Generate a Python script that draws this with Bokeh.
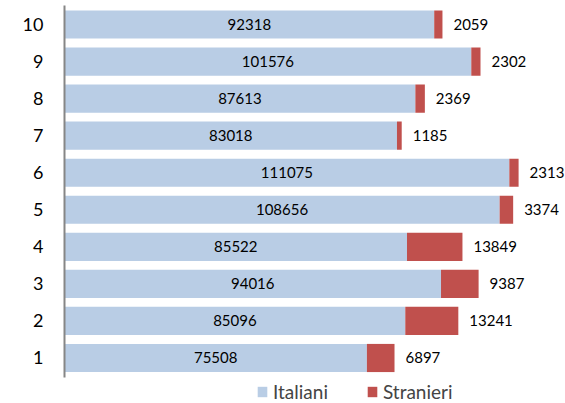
from bokeh.plotting import figure
from bokeh.models import ColumnDataSource, FixedTicker, Legend, LegendItem, LabelSet
from bokeh.core.properties import value
from bokeh.embed import file_html
from bokeh.resources import INLINE

categories = [1, 2, 3, 4, 5, 6, 7, 8, 9, 10]
italiani = [75508, 85096, 94016, 85522, 108656, 111075, 83018, 87613, 101576, 92318]
stranieri = [6897, 13241, 9387, 13849, 3374, 2313, 1185, 2369, 2302, 2059]

c_ita = "#B9CDE5"
c_str = "#C0504D"

tot = [a + b for a, b in zip(italiani, stranieri)]
src = ColumnDataSource(dict(
    y=categories,
    ita=italiani,
    stra=stranieri,
    tot=tot,
    mid=[a / 2 for a in italiani],
    ita_lbl=[str(v) for v in italiani],
    str_lbl=[str(v) for v in stranieri],
))

p = figure(width=565, height=403, output_backend="svg", toolbar_location=None,
           x_range=(0, 125100), y_range=(-0.228, 10.513),
           min_border_left=64, min_border_right=0, min_border_top=5, min_border_bottom=0)
p.outline_line_color = None
p.grid.visible = False
p.xaxis.visible = False

r1 = p.hbar(y="y", left=0, right="ita", height=0.76, source=src, fill_color=c_ita, line_color=None)
r2 = p.hbar(y="y", left="ita", right="tot", height=0.76, source=src, fill_color=c_str, line_color=None)

font = "Lato"
p.add_layout(LabelSet(x="mid", y="y", text="ita_lbl", source=src, text_align="center",
                      text_baseline="middle", text_font=value(font), text_font_size=value("15px"),
                      text_color="#000000"))
p.add_layout(LabelSet(x="tot", y="y", text="str_lbl", source=src, text_align="left", x_offset=11,
                      text_baseline="middle", text_font=value(font), text_font_size=value("15px"),
                      text_color="#000000"))

yax = p.yaxis[0]
yax.ticker = FixedTicker(ticks=categories)
yax.bounds = (0.474, 10.513)
yax.major_tick_line_color = None
yax.minor_tick_line_color = None
yax.axis_line_color = "#868686"
yax.axis_line_width = 2
yax.major_label_text_font = font
yax.major_label_text_font_size = "18px"
yax.major_label_text_color = "#000000"
yax.major_label_standoff = 15

legend = Legend(items=[LegendItem(label="Italiani", renderers=[r1]),
                       LegendItem(label="Stranieri", renderers=[r2])],
                orientation="horizontal", location=(192, 0),
                border_line_color=None, background_fill_alpha=0,
                label_text_font=font, label_text_font_size="19px",
                glyph_width=12, glyph_height=13, label_standoff=5, spacing=38,
                padding=0, margin=0)
p.add_layout(legend, "center")

open("out.html", "w").write(file_html(p, INLINE))
